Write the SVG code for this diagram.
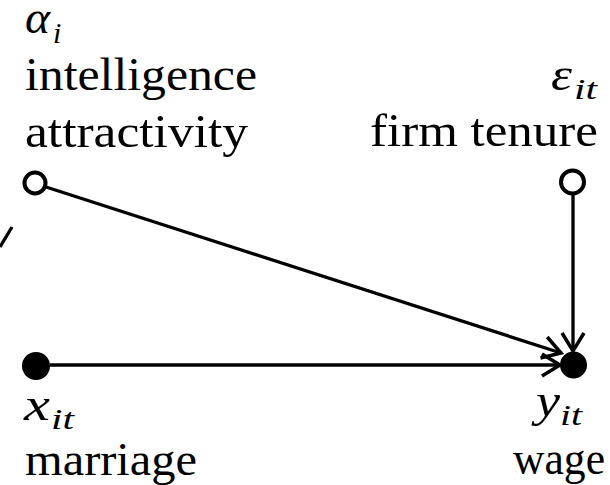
<svg xmlns="http://www.w3.org/2000/svg" width="610" height="485" viewBox="0 0 610 485">
<defs>
<style>
.lbl{font-family:"Liberation Serif","Times New Roman",serif;font-size:46px;fill:#000}
.m{font-family:"Liberation Serif","Times New Roman",serif;font-style:italic;font-size:46px;fill:#000}
.s{font-family:"Liberation Serif","Times New Roman",serif;font-style:italic;font-size:30px;fill:#000}
.edge{stroke:#000;stroke-width:3.3;fill:none}
.open{fill:#fff;stroke:#000;stroke-width:4}
.full{fill:#000;stroke:none}
</style>
<marker id="arr" markerUnits="userSpaceOnUse" markerWidth="30" markerHeight="30" viewBox="-22 -15 26 30" refX="0" refY="0" orient="auto">
<path d="M-18,-11 L0,0 L-18,11" fill="none" stroke="#000" stroke-width="3.5"/>
</marker>
</defs>
<g id="connectors">
<line class="edge" x1="46" y1="187" x2="561" y2="353" marker-end="url(#arr)"/>
<line class="edge" x1="50" y1="365" x2="560" y2="365" marker-end="url(#arr)"/>
<line class="edge" x1="573" y1="195" x2="573" y2="351" marker-end="url(#arr)"/>
<line class="edge" x1="12" y1="227" x2="0" y2="247"/>
</g>
<g id="node-alpha">
<circle class="open" cx="35" cy="183" r="10.5"/>
<text class="m" x="25" y="33" textLength="25" lengthAdjust="spacingAndGlyphs">α</text>
<text class="s" x="53" y="43">i</text>
<text class="lbl" x="25" y="90" textLength="232" lengthAdjust="spacingAndGlyphs">intelligence</text>
<text class="lbl" x="25" y="147" textLength="223" lengthAdjust="spacingAndGlyphs">attractivity</text>
</g>
<g id="node-epsilon">
<circle class="open" cx="572.5" cy="182" r="11.5"/>
<text class="m" x="551" y="90" textLength="21" lengthAdjust="spacingAndGlyphs">ε</text>
<text class="s" x="574" y="99" textLength="23" lengthAdjust="spacingAndGlyphs">it</text>
<text class="lbl" x="370" y="146" textLength="228" lengthAdjust="spacingAndGlyphs">firm tenure</text>
</g>
<g id="node-x">
<circle class="full" cx="36" cy="366" r="14"/>
<text class="m" x="24" y="420" textLength="26" lengthAdjust="spacingAndGlyphs">x</text>
<text class="s" x="51" y="429" textLength="23" lengthAdjust="spacingAndGlyphs">it</text>
<text class="lbl" x="25" y="475" textLength="172" lengthAdjust="spacingAndGlyphs">marriage</text>
</g>
<g id="node-y">
<circle class="full" cx="573.5" cy="365" r="13.5"/>
<text class="m" x="536" y="416" textLength="24" lengthAdjust="spacingAndGlyphs">y</text>
<text class="s" x="560" y="425" textLength="22" lengthAdjust="spacingAndGlyphs">it</text>
<text class="lbl" x="513" y="474" textLength="92" lengthAdjust="spacingAndGlyphs">wage</text>
</g>
</svg>
